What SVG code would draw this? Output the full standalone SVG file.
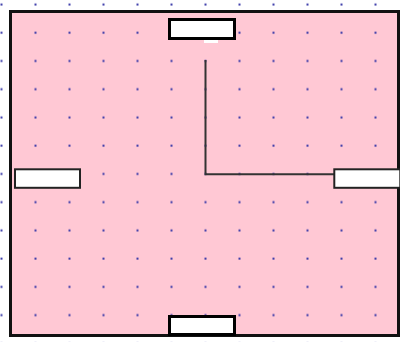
<svg xmlns="http://www.w3.org/2000/svg" width="400" height="342" viewBox="0 0 400 342">
<style>
.box{fill:#fff;stroke:#000;stroke-width:3}
.box2{fill:#fff;stroke:#222;stroke-width:2}
.dot{fill:#3a3aa8}
.conn{fill:none;stroke:#333;stroke-width:2}
</style>
<defs>
<pattern id="dots" patternUnits="userSpaceOnUse" x="0" y="0" width="34" height="28.24">
<rect class="dot" x="0.5" y="3.5" width="2" height="2"/>
</pattern>
</defs>
<rect width="400" height="342" fill="#fff"/>
<g id="frame">
<rect x="10.5" y="11.5" width="388" height="324" fill="#ffc8d4"/>
<rect width="400" height="342" fill="url(#dots)"/>
<rect x="10.5" y="11.5" width="388" height="324" fill="none" stroke="#111" stroke-width="3"/>
</g>
<g id="connectors">
<polyline class="conn" points="205.5,60 205.5,174.3 334,174.3"/>
</g>
<g id="top">
<rect class="box" x="169.5" y="19.5" width="65" height="19"/>
<rect x="204" y="40" width="14" height="3" fill="#fff"/>
</g>
<g id="left">
<rect class="box2" x="15" y="169.3" width="65" height="18.5"/>
</g>
<g id="right">
<rect class="box2" x="334.3" y="169.3" width="66" height="18.5"/>
</g>
<g id="bottom">
<rect class="box" x="169.5" y="316.5" width="65" height="18"/>
</g>
</svg>
